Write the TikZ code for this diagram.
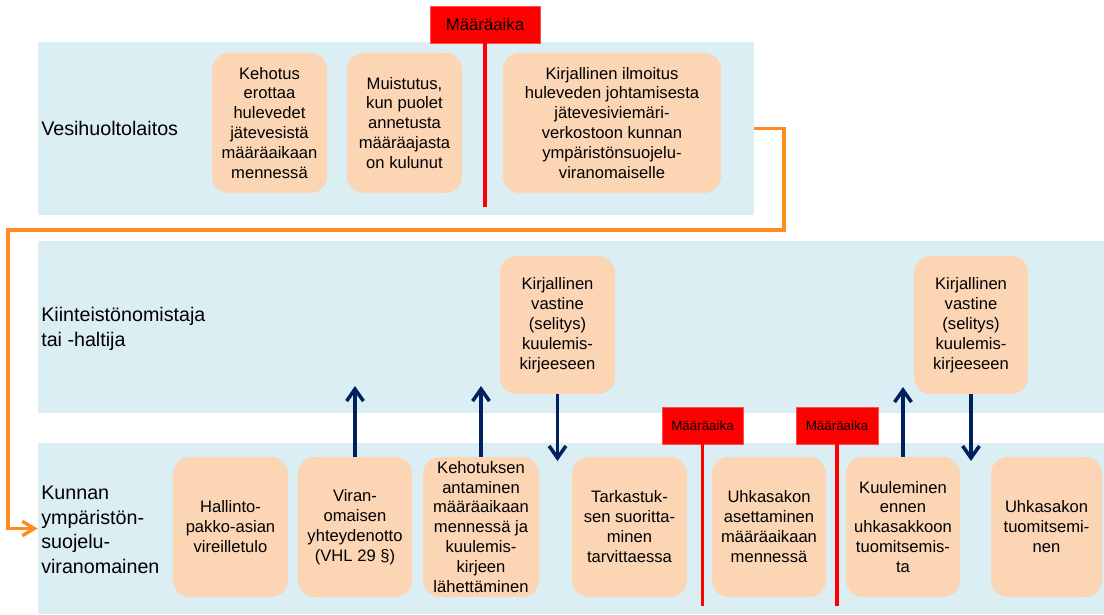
\documentclass[tikz,border=0pt]{standalone}
\usepackage{fontspec}
\setmainfont{Liberation Sans}
\usetikzlibrary{arrows.meta, positioning}
\definecolor{bandblue}{HTML}{DAEEF3}
\definecolor{peach}{HTML}{FCD5B4}
\definecolor{navy}{HTML}{002060}
\definecolor{floworange}{HTML}{FF8A1F}
\definecolor{ddred}{HTML}{FF0000}

\begin{document}
\begin{tikzpicture}[
  x=0.025cm, y=-0.025cm,
  band/.style={rectangle, fill=bandblue, inner sep=0pt},
  box/.style={rectangle, fill=peach, rounded corners=0.42cm, minimum width=2.875cm, minimum height=3.5cm, align=center, inner sep=1pt, font=\fontsize{11.8}{14.2}\selectfont},
  lane/.style={anchor=west, align=left, inner sep=0pt, font=\fontsize{14}{17.5}\selectfont},
  deadline/.style={rectangle, fill=ddred, draw=red!70!white, line width=0.4pt, minimum height=0.925cm, inner sep=0pt},
  limit/.style={draw=ddred, line width=2.5pt},
  arrow/.style={draw=navy, line width=2.5pt, -{Straight Barb[length=3mm, width=4.2mm]}},
  flow/.style={draw=floworange, line width=2.4pt, -{Straight Barb[length=3mm, width=3.6mm]}}
  ]
  \useasboundingbox (0,0) rectangle (1104,614);

  % ========== Kaistat ==========
  \node[band, minimum width=17.9cm, minimum height=4.325cm] (water) at (396,128.5) {};
  \node[band, minimum width=26.65cm, minimum height=4.3cm] (owner) at (571,327) {};
  \node[band, minimum width=26.65cm, minimum height=4.275cm] (muni) at (571,528.5) {};
  \node[lane] (Lw) at (41,128) {Vesihuoltolaitos};
  \node[lane] (Lo) at (41,329) {Kiinteistönomistaja\\tai -haltija};
  \node[lane] (Lm) at (41,530) {Kunnan\\ympäristön-\\suojelu-\\viranomainen};

  % ========== Vesihuoltolaitos ==========
  \node[box] (W1) at (269.5,123) {Kehotus\\erottaa\\hulevedet\\jätevesistä\\määräaikaan\\mennessä};
  \node[box] (W2) at (404.5,123) {Muistutus,\\kun puolet\\annetusta\\määräajasta\\on kulunut};
  \node[box, minimum width=5.45cm] (W3) at (612,123) {Kirjallinen ilmoitus\\huleveden johtamisesta\\jätevesiviemäri-\\verkostoon kunnan\\ympäristönsuojelu-\\viranomaiselle};

  % ========== Kiinteistönomistaja ==========
  \node[box, minimum height=3.45cm] (K1) at (557.5,325) {Kirjallinen\\vastine\\(selitys)\\kuulemis-\\kirjeeseen};
  \node[box, minimum height=3.45cm, minimum width=2.85cm] (K2) at (971,325) {Kirjallinen\\vastine\\(selitys)\\kuulemis-\\kirjeeseen};

  % ========== Kunnan ympäristönsuojeluviranomainen ==========
  \node[box] (B1) at (230.5,527) {Hallinto-\\pakko-asian\\vireilletulo};
  \node[box, minimum width=2.85cm] (B2) at (355,527) {Viran-\\omaisen\\yhteydenotto\\(VHL 29 §)};
  \node[box, minimum width=2.9cm] (B3) at (481,527) {Kehotuksen\\antaminen\\määräaikaan\\mennessä ja\\kuulemis-\\kirjeen\\lähettäminen};
  \node[box] (B4) at (629.5,527) {Tarkastuk-\\sen suoritta-\\minen\\tarvittaessa};
  \node[box, minimum width=2.85cm] (B5) at (769,527) {Uhkasakon\\asettaminen\\määräaikaan\\mennessä};
  \node[box, minimum width=2.85cm] (B6) at (903,527) {Kuuleminen\\ennen\\uhkasakkoon\\tuomitsemis-\\ta};
  \node[box, minimum width=2.775cm] (B7) at (1046.5,527) {Uhkasakon\\tuomitsemi-\\nen};

  % ========== Määräajat ==========
  \node[deadline, minimum width=2.75cm, font=\fontsize{11.9}{14}\selectfont] (D1) at (485,24.5) {Määräaika};
  \node[deadline, minimum width=2.025cm, font=\fontsize{9.5}{11}\selectfont] (D2) at (702.5,425.5) {Määräaika};
  \node[deadline, minimum width=2.05cm, font=\fontsize{9.5}{11}\selectfont] (D3) at (837,425.5) {Määräaika};
  \coordinate (D1end) at (485,207);
  \coordinate (D2end) at (702.5,606);
  \coordinate (D3end) at (837,606);
  \draw[limit] (D1.south) -- (D1end);
  \draw[limit] (D2.south) -- (D2end);
  \draw[limit] (D3.south) -- (D3end);

  % ========== Nuolet ==========
  \coordinate (A1) at (355,386);
  \coordinate (A2) at (481,386);
  \coordinate (A3) at (557.5,461);
  \coordinate (A4) at (903,387);
  \coordinate (A5) at (971,461);
  \draw[arrow] (B2.north) -- (A1);
  \draw[arrow] (B3.north) -- (A2);
  \draw[arrow] (K1.south) -- (A3);
  \draw[arrow] (B6.north) -- (A4);
  \draw[arrow] (K2.south) -- (A5);

  \coordinate (c1) at (784,128.5);
  \coordinate (c2) at (784,230);
  \coordinate (c3) at (8,230);
  \draw[flow] (water.east) -- (c1) -- (c2) -- (c3) |- (muni.west);
\end{tikzpicture}
\end{document}
